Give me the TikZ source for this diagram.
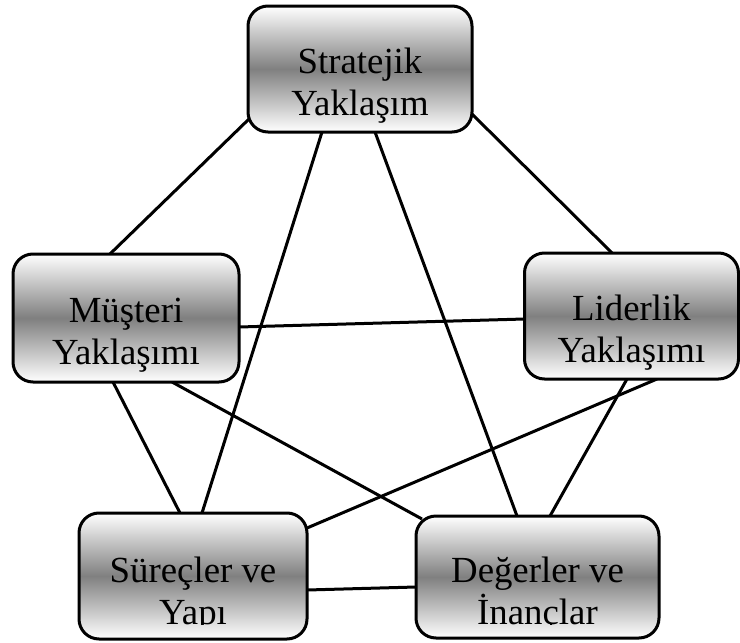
\documentclass[tikz,border=0pt]{standalone}
\usepackage{fontspec}
\setmainfont{Liberation Serif}
\usetikzlibrary{calc,backgrounds}
\begin{document}
\begin{tikzpicture}[x=1pt,y=-1pt,
  boxnode/.style={draw=black, line width=3pt, rounded corners=20pt, outer sep=0pt, inner sep=0pt,
    top color=white, bottom color=white, middle color=black!50},
  txt/.style={font=\fontsize{36.8}{42}\selectfont, align=center, anchor=north, inner sep=0pt, text=black},
  link/.style={draw=black, line width=3pt}]
\useasboundingbox (0,0) rectangle (740,643);
% boxes
\node[boxnode, minimum width=224pt, minimum height=126pt] (T) at (360,69) {};
\node[boxnode, minimum width=226pt, minimum height=128pt] (L) at (126,318) {};
\node[boxnode, minimum width=214pt, minimum height=126pt] (R) at (631.5,316) {};
\node[boxnode, minimum width=228pt, minimum height=126pt] (BL) at (193,576) {};
\node[boxnode, minimum width=243pt, minimum height=122pt] (BR) at (537.5,577) {};
% texts
\node[txt] (Tt) at ($(T.center)+(0,-22)$) {\rule{0pt}{26pt}Stratejik\\Yaklaşım};
\node[txt] (Lt) at ($(L.center)+(0,-22)$) {\rule{0pt}{26pt}Müşteri\\Yaklaşımı};
\node[txt] (Rt) at ($(R.center)+(0,-22)$) {\rule{0pt}{26pt}Liderlik\\Yaklaşımı};
\begin{scope}
  \clip ($(BL.north west)$) rectangle ($(BL.south east)+(0,-15)$);
  \node[txt] (BLt) at ($(BL.center)+(0,-20)$) {\rule{0pt}{26pt}Süreçler ve\\Yapı};
\end{scope}
\begin{scope}
  \clip ($(BR.north west)$) rectangle ($(BR.south east)+(0,-14)$);
  \node[txt] (BRt) at ($(BR.center)+(0,-21)$) {\rule{0pt}{26pt}Değerler ve\\İnançlar};
\end{scope}
% connectors
\begin{scope}[on background layer]
  \draw[link] ($(T.center)+(-111,50)$) -- ($(L.center)+(-16,-64)$);
  \draw[link] ($(T.center)+(111,44)$) -- ($(R.center)+(-19.5,-63)$);
  \draw[link] ($(T.center)+(-38,63)$) -- ($(BL.center)+(9,-63)$);
  \draw[link] ($(T.center)+(15,63)$) -- ($(BR.center)+(-20.5,-61)$);
  \draw[link] ($(L.center)+(113,9)$) -- ($(R.center)+(-107,3)$);
  \draw[link] ($(L.center)+(-13,64)$) -- ($(BL.center)+(-13,-63)$);
  \draw[link] ($(L.center)+(46,64)$) -- ($(BR.center)+(-115.5,-58)$);
  \draw[link] ($(R.center)+(25.5,63)$) -- ($(BL.center)+(114,-48)$);
  \draw[link] ($(R.center)+(-4.5,63)$) -- ($(BR.center)+(12.5,-61)$);
  \draw[link] ($(BL.center)+(114,14)$) -- ($(BR.center)+(-121.5,10)$);
\end{scope}
\end{tikzpicture}
\end{document}
